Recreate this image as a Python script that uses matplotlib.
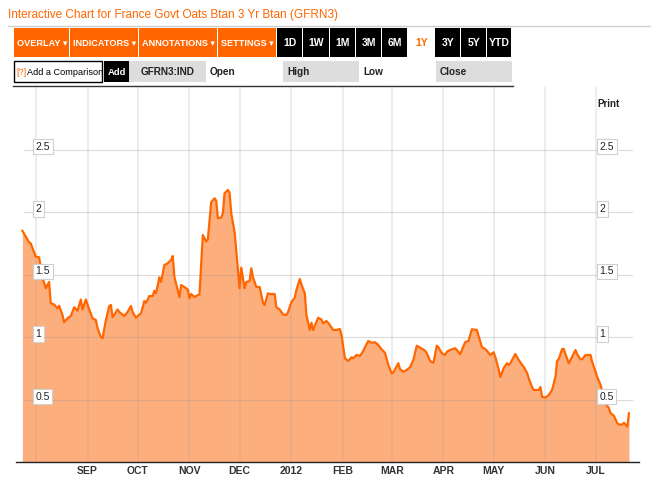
import datetime as dt
import matplotlib
matplotlib.use("Agg")
import matplotlib.pyplot as plt
from matplotlib.patches import Rectangle

plt.rcParams['font.family'] = ['Liberation Sans', 'DejaVu Sans']

# yield data
dates = [
    "2011-07-24", "2011-07-28", "2011-07-29", "2011-08-01", "2011-08-03", "2011-08-05",
    "2011-08-07", "2011-08-09", "2011-08-10", "2011-08-12", "2011-08-14", "2011-08-15",
    "2011-08-17", "2011-08-18", "2011-08-20", "2011-08-22", "2011-08-24", "2011-08-26",
    "2011-08-28", "2011-08-29", "2011-08-31", "2011-09-02", "2011-09-04", "2011-09-06",
    "2011-09-07", "2011-09-09", "2011-09-10", "2011-09-12", "2011-09-14", "2011-09-15",
    "2011-09-16", "2011-09-19", "2011-09-20", "2011-09-23", "2011-09-25", "2011-09-27",
    "2011-09-28", "2011-09-30", "2011-10-03", "2011-10-05", "2011-10-06", "2011-10-08",
    "2011-10-10", "2011-10-11", "2011-10-12", "2011-10-14", "2011-10-15", "2011-10-17",
    "2011-10-19", "2011-10-21", "2011-10-22", "2011-10-23", "2011-10-26", "2011-10-27",
    "2011-10-29", "2011-10-31", "2011-11-01", "2011-11-02", "2011-11-04", "2011-11-06",
    "2011-11-07", "2011-11-09", "2011-11-11", "2011-11-12", "2011-11-14", "2011-11-16",
    "2011-11-17", "2011-11-18", "2011-11-20", "2011-11-21", "2011-11-22", "2011-11-24",
    "2011-11-25", "2011-11-26", "2011-11-28", "2011-12-01", "2011-12-02", "2011-12-04",
    "2011-12-05", "2011-12-07", "2011-12-08", "2011-12-09", "2011-12-11", "2011-12-13",
    "2011-12-15", "2011-12-16", "2011-12-18", "2011-12-19", "2011-12-22", "2011-12-23",
    "2011-12-25", "2011-12-27", "2011-12-29", "2011-12-30", "2012-01-01", "2012-01-03",
    "2012-01-04", "2012-01-06", "2012-01-07", "2012-01-09", "2012-01-10", "2012-01-12",
    "2012-01-13", "2012-01-14", "2012-01-16", "2012-01-17", "2012-01-19", "2012-01-20",
    "2012-01-22", "2012-01-24", "2012-01-26", "2012-01-28", "2012-01-30", "2012-01-31",
    "2012-02-02", "2012-02-04", "2012-02-06", "2012-02-07", "2012-02-09", "2012-02-11",
    "2012-02-13", "2012-02-14", "2012-02-16", "2012-02-18", "2012-02-20", "2012-02-22",
    "2012-02-24", "2012-02-26", "2012-02-28", "2012-03-01", "2012-03-02", "2012-03-05",
    "2012-03-06", "2012-03-08", "2012-03-10", "2012-03-12", "2012-03-14", "2012-03-16",
    "2012-03-18", "2012-03-21", "2012-03-22", "2012-03-24", "2012-03-25", "2012-03-26",
    "2012-03-28", "2012-03-29", "2012-03-31", "2012-04-02", "2012-04-03", "2012-04-05",
    "2012-04-08", "2012-04-09", "2012-04-11", "2012-04-12", "2012-04-14", "2012-04-16",
    "2012-04-18", "2012-04-21", "2012-04-24", "2012-04-26", "2012-04-27", "2012-04-29",
    "2012-05-01", "2012-05-02", "2012-05-04", "2012-05-05", "2012-05-07", "2012-05-09",
    "2012-05-10", "2012-05-11", "2012-05-14", "2012-05-16", "2012-05-19", "2012-05-21",
    "2012-05-22", "2012-05-24", "2012-05-25", "2012-05-28", "2012-05-29", "2012-05-30",
    "2012-06-01", "2012-06-03", "2012-06-05", "2012-06-07", "2012-06-08", "2012-06-09",
    "2012-06-11", "2012-06-12", "2012-06-13", "2012-06-15", "2012-06-17", "2012-06-19",
    "2012-06-20", "2012-06-22", "2012-06-23", "2012-06-25", "2012-06-28", "2012-06-29",
    "2012-07-01", "2012-07-02", "2012-07-04", "2012-07-06", "2012-07-07", "2012-07-09",
    "2012-07-10", "2012-07-11", "2012-07-12", "2012-07-14", "2012-07-15", "2012-07-17",
    "2012-07-18", "2012-07-20", "2012-07-21",
]
values = [
    1.85, 1.758, 1.75, 1.643, 1.638, 1.48,
    1.39, 1.44, 1.27, 1.26, 1.23, 1.25,
    1.176, 1.118, 1.15, 1.168, 1.238, 1.21,
    1.30, 1.22, 1.30, 1.22, 1.15, 1.136,
    1.07, 1.0, 0.99, 1.136, 1.248, 1.256,
    1.158, 1.22, 1.20, 1.168, 1.20, 1.248,
    1.20, 1.155, 1.19, 1.288, 1.274, 1.328,
    1.328, 1.37, 1.35, 1.478, 1.44, 1.576,
    1.59, 1.616, 1.648, 1.48, 1.32, 1.416,
    1.40, 1.38, 1.31, 1.344, 1.32, 1.336,
    1.34, 1.816, 1.764, 1.78, 2.078, 2.11,
    2.09, 1.95, 1.955, 1.99, 2.15, 2.176,
    2.155, 1.99, 1.84, 1.39, 1.555, 1.39,
    1.44, 1.448, 1.55, 1.48, 1.40, 1.40,
    1.274, 1.256, 1.35, 1.344, 1.344, 1.238,
    1.22, 1.18, 1.176, 1.20, 1.28, 1.314,
    1.376, 1.464, 1.42, 1.35, 1.176, 1.056,
    1.114, 1.056, 1.12, 1.154, 1.14, 1.11,
    1.128, 1.096, 1.056, 1.056, 1.064, 1.016,
    0.83, 0.808, 0.838, 0.83, 0.856, 0.848,
    0.888, 0.918, 0.968, 0.954, 0.958, 0.936,
    0.90, 0.874, 0.776, 0.71, 0.716, 0.79,
    0.742, 0.722, 0.736, 0.758, 0.816, 0.93,
    0.915, 0.89, 0.87, 0.81, 0.80, 0.794,
    0.93, 0.918, 0.87, 0.856, 0.882, 0.896,
    0.91, 0.896, 0.862, 0.896, 0.958, 0.97,
    1.062, 1.056, 0.918, 0.904, 0.89, 0.856,
    0.878, 0.842, 0.742, 0.68, 0.75, 0.79,
    0.776, 0.79, 0.864, 0.816, 0.76, 0.714,
    0.67, 0.60, 0.576, 0.576, 0.60, 0.522,
    0.515, 0.536, 0.576, 0.68, 0.81, 0.824,
    0.904, 0.904, 0.862, 0.79, 0.842, 0.896,
    0.862, 0.822, 0.822, 0.856, 0.856, 0.80,
    0.722, 0.68, 0.616, 0.522, 0.47, 0.43,
    0.39, 0.38, 0.37, 0.31, 0.30, 0.30,
    0.314, 0.282, 0.39,
]

month_starts = ["2011-08-01", "2011-09-01", "2011-10-01", "2011-11-01", "2011-12-01",
                "2012-01-01", "2012-02-01", "2012-03-01", "2012-04-01", "2012-05-01",
                "2012-06-01", "2012-07-01"]
month_labels = ["", "SEP", "OCT", "NOV", "DEC", "2012", "FEB", "MAR", "APR", "MAY", "JUN", "JUL"]
y_ticks = [0.5, 1, 1.5, 2, 2.5]
y_labels = ["0.5", "1", "1.5", "2", "2.5"]

menu_labels = ["OVERLAY \u25be", "INDICATORS \u25be", "ANNOTATIONS \u25be", "SETTINGS \u25be"]
range_labels = ["1D", "1W", "1M", "3M", "6M", "1Y", "3Y", "5Y", "YTD"]

ORANGE = "#FF6600"
FILL = "#FDAE7D"

x = [dt.datetime.strptime(d, "%Y-%m-%d") for d in dates]
mx = [dt.datetime.strptime(d, "%Y-%m-%d") for d in month_starts]

W, H = 651, 478
fig = plt.figure(figsize=(W / 100, H / 100), dpi=100)

# main chart area
ax = fig.add_axes([16 / W, (H - 462) / H, (639 - 16) / W, (462 - 87) / H])
ax.fill_between(x, values, 0, color=FILL, lw=0, zorder=1)
ax.plot(x, values, color=ORANGE, lw=1.6, zorder=4, solid_joinstyle="round")
ax.set_ylim(0, 3.0)
ax.set_xlim(x[0] - dt.timedelta(days=3.8), x[-1] + dt.timedelta(days=6))

for m in mx:
    ax.axvline(m, color="#999999", alpha=0.18, lw=1.4, zorder=2)
for t in y_ticks:
    ax.axhline(t, xmin=(24 - 16) / 623, xmax=(632 - 16) / 623,
               color="#999999", alpha=0.35, lw=0.8, zorder=2)

for s in ["top", "left", "right"]:
    ax.spines[s].set_visible(False)
ax.spines["bottom"].set_color("#222222")
ax.spines["bottom"].set_linewidth(1.0)
ax.set_yticks([])
ax.set_xticks(mx)
ax.set_xticklabels(month_labels, fontsize=7.5, fontweight="bold", color="#333333")
ax.tick_params(axis="x", length=0, pad=3)

box = dict(boxstyle="square,pad=0.25", fc="white", ec="#d0d0d0", lw=0.8)
for t, lab in zip(y_ticks, y_labels):
    ax.text((35.5 - 16) / 623, t + 0.024, lab, transform=ax.get_yaxis_transform(),
            fontsize=7.5, color="#222222", va="center", ha="left", bbox=box, zorder=6)
    ax.text((599.5 - 16) / 623, t + 0.024, lab, transform=ax.get_yaxis_transform(),
            fontsize=7.5, color="#222222", va="center", ha="left", bbox=box, zorder=6)

# page furniture: title, toolbar, comparison row
ui = fig.add_axes([0, 0, 1, 1])
ui.set_xlim(0, W)
ui.set_ylim(H, 0)
ui.axis("off")
ui.patch.set_alpha(0)

ui.text(8, 15, "Interactive Chart for France Govt Oats Btan 3 Yr Btan (GFRN3)",
        color=ORANGE, fontsize=8.5, va="center", ha="left")
ui.plot([8, W], [25.5, 25.5], color="#cccccc", lw=1)

menu_edges = [14, 70, 139, 218, 277]
for i, lab in enumerate(menu_labels):
    x0, x1 = menu_edges[i], menu_edges[i + 1]
    ui.add_patch(Rectangle((x0, 28), x1 - x0 - 0.8, 29, fc=ORANGE, ec="none"))
    ui.text((x0 + x1) / 2, 43, lab, color="white", fontsize=6.6, fontweight="bold",
            ha="center", va="center")

range_edges = [277, 303, 330, 356, 382, 408, 435, 461, 487, 512]
for i, lab in enumerate(range_labels):
    x0, x1 = range_edges[i], range_edges[i + 1]
    if lab == "1Y":
        ui.text((x0 + x1) / 2, 43, lab, color=ORANGE, fontsize=7.5, fontweight="bold",
                ha="center", va="center")
        continue
    ui.add_patch(Rectangle((x0, 28), x1 - x0 - 0.8, 29, fc="black", ec="none"))
    ui.text((x0 + x1) / 2, 43, lab, color="white", fontsize=7.5, fontweight="bold",
            ha="center", va="center")

ui.add_patch(Rectangle((14, 61), 88, 21, fc="white", ec="black", lw=1))
ui.text(16.5, 72, "[?]", color=ORANGE, fontsize=6.6, va="center", ha="left")
ui.text(27, 72, "Add a Comparison", color="black", fontsize=6.6, va="center", ha="left")
ui.add_patch(Rectangle((104, 61), 25, 21, fc="black", ec="none"))
ui.text(116.5, 72, "Add", color="white", fontsize=6.8, fontweight="bold", va="center",
        ha="center")
ui.add_patch(Rectangle((129, 61), 77, 21, fc="#dddddd", ec="none"))
ui.text(167.5, 72, "GFRN3:IND", color="#222222", fontsize=7.2, fontweight="bold",
        va="center", ha="center")
ui.text(210, 72, "Open", color="#222222", fontsize=7.2, fontweight="bold", va="center", ha="left")
ui.add_patch(Rectangle((283, 61), 76, 21, fc="#dddddd", ec="none"))
ui.text(287, 72, "High", color="#222222", fontsize=7.2, fontweight="bold", va="center", ha="left")
ui.text(363, 72, "Low", color="#222222", fontsize=7.2, fontweight="bold", va="center", ha="left")
ui.add_patch(Rectangle((436, 61), 76, 21, fc="#dddddd", ec="none"))
ui.text(440, 72, "Close", color="#222222", fontsize=7.2, fontweight="bold", va="center", ha="left")
ui.plot([13, 513], [86, 86], color="#333333", lw=1)

ui.text(597, 104, "Print", color="#222222", fontsize=7, fontweight="bold", va="center", ha="left")

fig.savefig("out.png", dpi=100)
